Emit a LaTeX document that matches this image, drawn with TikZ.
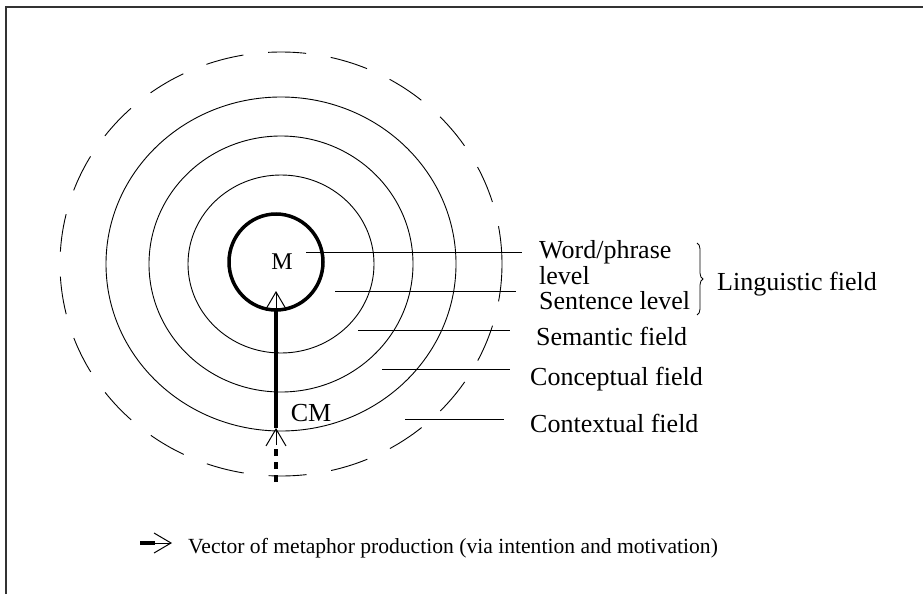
\documentclass[tikz,border=0pt]{standalone}
\usepackage{fontspec}
\setmainfont{Liberation Serif}
\usetikzlibrary{arrows.meta,decorations.pathreplacing}

\tikzset{
	lbl/.style={inner sep=0pt,anchor=base west,font=\fontsize{26}{27}\selectfont},
	ring/.style={line width=0.9pt},
	vecline/.style={line width=3.5pt},
	vechead/.style={line width=1pt,-{Straight Barb[length=17pt,width=20pt]}}
}

\begin{document}
\begin{tikzpicture}[x=1pt,y=-1pt]
		\useasboundingbox (0,0) rectangle (923,594);
%		\draw[help lines] (0,0) grid[step=50] (923,594);
		\path (6,594) coordinate (frame_bl);
		\path (6,7) coordinate (frame_tl);
		\path (923,7) coordinate (frame_tr);

		\path (276,262) coordinate (m_ctr);
		\path (281,264) coordinate (ring_ctr);

		\path (276,482) coordinate (vec_src);
		\path (276,445) coordinate (cm_base);
		\path (276,428) coordinate (cm_tip);
		\path (276,308) coordinate (m_base);
		\path (276,291) coordinate (m_tip);

		\path (306,252) coordinate (word_l);
		\path (522,252) coordinate (word_r);
		\path (335,291) coordinate (sent_l);
		\path (516,291) coordinate (sent_r);
		\path (358,330) coordinate (sem_l);
		\path (510,330) coordinate (sem_r);
		\path (382,369) coordinate (conc_l);
		\path (510,369) coordinate (conc_r);
		\path (405,419) coordinate (cont_l);
		\path (504,419) coordinate (cont_r);

		\path (697,243) coordinate (brace_t);
		\path (697,315) coordinate (brace_b);

		\path (140,543) coordinate (key_l);
		\path (155,543) coordinate (key_m);
		\path (172,543) coordinate (key_r);

		\draw[line width=1.5pt,black!80] (frame_bl) -- (frame_tl) -- (frame_tr);

		\draw[ring] (ring_ctr) ellipse [x radius=93pt,y radius=89pt];
		\draw[ring] (ring_ctr) ellipse [x radius=132pt,y radius=128pt];
		\draw[ring] (ring_ctr) ellipse [x radius=175pt,y radius=167pt];
		\draw[ring,dash pattern=on 38pt off 25pt] (ring_ctr) ellipse [x radius=221pt,y radius=212pt];
		\draw[line width=3.5pt] (m_ctr) ellipse [x radius=47pt,y radius=48pt];

		\draw (282,262) node(m) {\fontsize{24}{24}\selectfont M};
		\draw (311,413) node(cm) {\fontsize{26}{26}\selectfont CM};

		\draw[vecline,dash pattern=on 7pt off 6pt] (vec_src) -- (cm_base);
		\draw[vechead] (cm_base) -- (cm_tip);
		\draw[vecline] (cm_tip) -- (m_base);
		\draw[vechead] (m_base) -- (m_tip);

		\draw[ring] (word_l) -- (word_r);
		\draw[ring] (sent_l) -- (sent_r);
		\draw[ring] (sem_l) -- (sem_r);
		\draw[ring] (conc_l) -- (conc_r);
		\draw[ring] (cont_l) -- (cont_r);

		\draw (539,240) node(word) [lbl,anchor=north west,align=left,font=\fontsize{26}{26}\selectfont] {Word/phrase\\level};
		\draw (539,309) node(sent) [lbl] {Sentence level};
		\draw (536,345) node(sem) [lbl] {Semantic field};
		\draw (530,385) node(conc) [lbl] {Conceptual field};
		\draw (530,432) node(cont) [lbl] {Contextual field};

		\draw[line width=0.8pt,decorate,decoration={brace,amplitude=6pt}] (brace_t) -- (brace_b);
		\draw (717,290) node(ling) [lbl] {Linguistic field};

		\draw[vecline] (key_l) -- (key_m);
		\draw[vechead] (key_m) -- (key_r);
		\draw (188,553) node(key) [lbl,font=\fontsize{21.6}{22}\selectfont] {Vector of metaphor production (via intention and motivation)};
	\end{tikzpicture}
\end{document}
